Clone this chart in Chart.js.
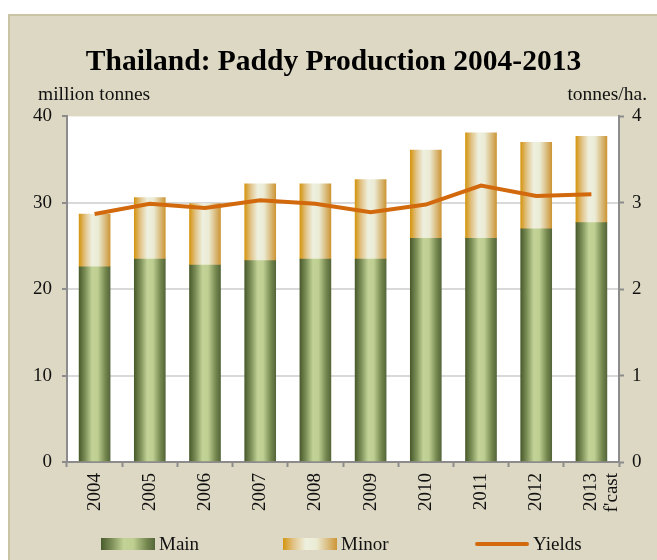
<!DOCTYPE html>
<html>
<head>
<meta charset="utf-8">
<script src="https://cdn.jsdelivr.net/npm/chart.js@4"></script>
<style>
  html, body { margin: 0; padding: 0; background: #fff; }
  #frame {
    position: absolute; left: 8px; top: 14px; width: 649px; height: 546px;
    box-sizing: border-box; border-left: 2px solid #c9c4a3; border-top: 2px solid #c9c4a3;
    background: #ddd8c3; overflow: hidden;
  }
  canvas { display: block; }
  #legend { position: absolute; left: 0; top: 518px; width: 647px; height: 20px; }
  .item { position: absolute; top: 0; height: 20px; display: flex; align-items: center;
    font: 19px 'Liberation Serif', 'Times New Roman', serif; color: #111; white-space: nowrap; }
  .swatch { width: 54px; margin-right: 4px; }
</style>
</head>
<body>
<div id="frame">
  <canvas id="paddy" width="647" height="544"></canvas>
  <div id="legend"></div>
</div>
<script>
// data
const years = ['2004', '2005', '2006', '2007', '2008', '2009', '2010', '2011', '2012', ['2013', "f'cast"]];
const mainCrop = [22.6, 23.5, 22.8, 23.3, 23.5, 23.5, 25.9, 25.9, 27.0, 27.7];
const minorCrop = [6.1, 7.1, 7.1, 8.9, 8.7, 9.2, 10.2, 12.2, 10.0, 10.0];
const yields = [2.87, 2.99, 2.94, 3.03, 2.99, 2.89, 2.98, 3.20, 3.08, 3.10];
const leftTicks = [0, 10, 20, 30, 40];
const rightTicks = [0, 1, 2, 3, 4];

const SERIF = "'Liberation Serif', 'Times New Roman', serif";
const BAR_W = 31;
const AXIS_GREY = '#8c8c8c';
const LINE_COLOR = '#d2690c';

const mainStops = [[0, '#4a5b2c'], [0.2, '#7d9058'], [0.42, '#c3d397'], [0.6, '#bfcf92'], [0.85, '#74874e'], [1, '#55673a']];
const minorStops = [[0, '#d49511'], [0.2, '#e2c48a'], [0.42, '#eef0df'], [0.62, '#ebebd4'], [0.85, '#d8b877'], [1, '#cd9636']];

function makeGradient(ctx, left, right, stops) {
  const g = ctx.createLinearGradient(left, 0, right, 0);
  stops.forEach(([p, c]) => g.addColorStop(p, c));
  return g;
}

// gradient across each bar, placed from the x scale
function barFill(stops) {
  return (c) => {
    const xs = c.chart.scales.x;
    if (c.type !== 'data' || !xs) return stops[2][1];
    const cx = xs.getPixelForValue(c.dataIndex);
    if (!Number.isFinite(cx)) return stops[2][1];
    return makeGradient(c.chart.ctx, cx - BAR_W / 2, cx + BAR_W / 2, stops);
  };
}

// white plot area
const plotBack = {
  id: 'plotBack',
  beforeDraw(chart) {
    const { ctx, chartArea: a } = chart;
    ctx.save();
    ctx.fillStyle = '#fff';
    ctx.fillRect(a.left, a.top, a.right - a.left, a.bottom - a.top);
    ctx.restore();
  }
};

// unit captions above both axes
const unitLabels = {
  id: 'unitLabels',
  afterDraw(chart) {
    const { ctx, chartArea: a } = chart;
    ctx.save();
    ctx.font = '19.5px ' + SERIF;
    ctx.fillStyle = '#111';
    ctx.textBaseline = 'alphabetic';
    ctx.textAlign = 'left';
    ctx.fillText('million tonnes', a.left - 29, a.top - 16);
    ctx.textAlign = 'right';
    ctx.fillText('tonnes/ha.', a.right + 28, a.top - 16);
    ctx.restore();
  }
};

const chart = new Chart(document.getElementById('paddy'), {
  type: 'bar',
  data: {
    labels: years,
    datasets: [
      {
        type: 'line', label: 'Yields', data: yields, yAxisID: 'y1', order: 0,
        borderColor: LINE_COLOR, borderWidth: 4, pointRadius: 0, tension: 0, fill: false
      },
      { label: 'Main', data: mainCrop, backgroundColor: barFill(mainStops), barThickness: BAR_W, order: 1 },
      { label: 'Minor', data: minorCrop, backgroundColor: barFill(minorStops), barThickness: BAR_W, order: 1 }
    ]
  },
  options: {
    responsive: false,
    animation: false,
    events: [],
    layout: { padding: 0 },
    plugins: {
      title: {
        display: true,
        text: 'Thailand: Paddy Production 2004-2013',
        color: '#000',
        font: { family: SERIF, size: 29.5, weight: 'bold' },
        padding: { top: 29, bottom: 36 }
      },
      legend: { display: false },
      tooltip: { enabled: false }
    },
    scales: {
      x: {
        stacked: true,
        afterFit: (s) => { s.height = 98; },
        grid: { drawOnChartArea: false, drawTicks: true, tickLength: 5, tickColor: AXIS_GREY, tickWidth: 2, offset: true },
        border: { color: AXIS_GREY, width: 2 },
        ticks: {
          minRotation: 90, maxRotation: 90, autoSkip: false, padding: 6, color: '#111',
          font: { family: SERIF, size: 19, lineHeight: 1.1 }
        }
      },
      y: {
        stacked: true,
        min: leftTicks[0], max: leftTicks[leftTicks.length - 1],
        afterFit: (s) => { s.width = 57; },
        afterBuildTicks: (s) => { s.ticks = leftTicks.map(v => ({ value: v })); },
        grid: {
          color: (c) => (c.tick && c.tick.value === 40 ? 'rgba(0,0,0,0)' : '#d9d9d9'),
          lineWidth: 2, tickLength: 5, tickColor: AXIS_GREY, tickWidth: 2
        },
        border: { color: AXIS_GREY, width: 2 },
        ticks: { padding: 10, color: '#111', font: { family: SERIF, size: 19 } }
      },
      y1: {
        position: 'right',
        min: rightTicks[0], max: rightTicks[rightTicks.length - 1],
        afterFit: (s) => { s.width = 38; },
        afterBuildTicks: (s) => { s.ticks = rightTicks.map(v => ({ value: v })); },
        grid: { drawOnChartArea: false, tickLength: 5, tickColor: AXIS_GREY, tickWidth: 2 },
        border: { color: AXIS_GREY, width: 2 },
        ticks: { padding: 8, color: '#111', font: { family: SERIF, size: 19 } }
      }
    }
  },
  plugins: [plotBack, unitLabels]
});

// html legend built from the chart's datasets (order: Main, Minor, Yields)
function cssGradient(stops) {
  return 'linear-gradient(to right, ' + stops.map(([p, c]) => c + ' ' + (p * 100) + '%').join(', ') + ')';
}
const legendOrder = [1, 2, 0];
const legendLeft = [91, 273, 465];
const legendEl = document.getElementById('legend');
legendOrder.forEach((di, k) => {
  const ds = chart.data.datasets[di];
  const item = document.createElement('div');
  item.className = 'item';
  item.style.left = legendLeft[k] + 'px';
  const sw = document.createElement('span');
  sw.className = 'swatch';
  if (ds.type === 'line') {
    sw.style.height = '4px';
    sw.style.borderRadius = '2px';
    sw.style.background = ds.borderColor;
  } else {
    sw.style.height = '12px';
    sw.style.background = cssGradient(di === 1 ? mainStops : minorStops);
  }
  item.appendChild(sw);
  item.appendChild(document.createTextNode(ds.label));
  legendEl.appendChild(item);
});
</script>
</body>
</html>
